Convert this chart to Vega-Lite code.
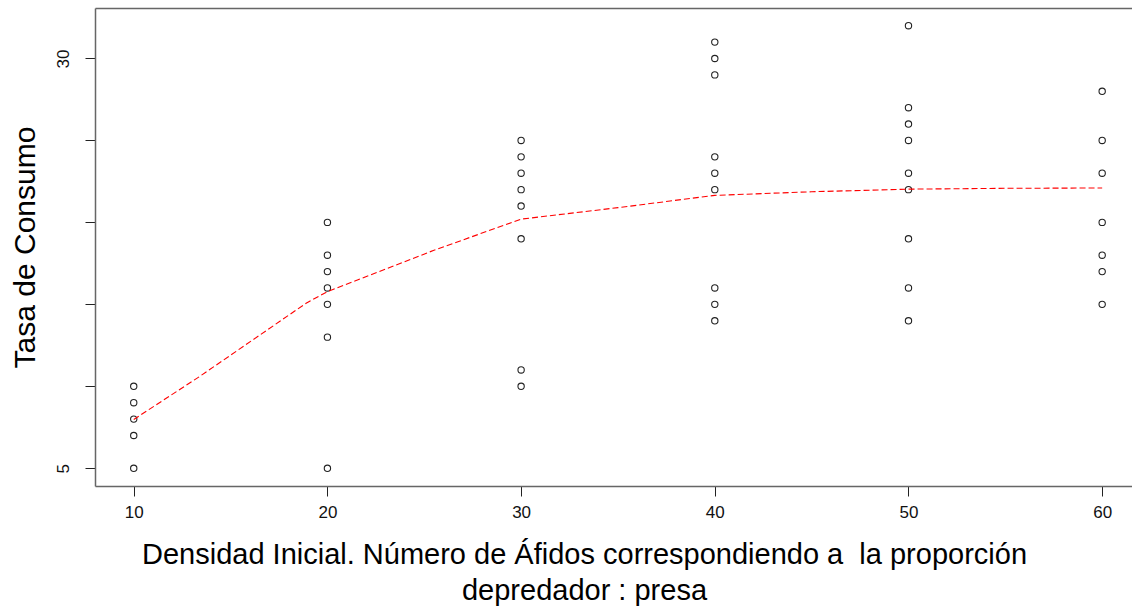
{
  "$schema": "https://vega.github.io/schema/vega-lite/v6.json",
  "width": 1037,
  "height": 478,
  "autosize": {"type": "none"},
  "padding": {"left": 95, "top": 8, "right": 0, "bottom": 121},
  "background": "white",
  "config": {
    "view": {"stroke": null},
    "font": "Liberation Sans",
    "axis": {"grid": false}
  },
  "datasets": {
    "obs": [
      {"densidad": 10, "tasa": 5}, {"densidad": 10, "tasa": 7}, {"densidad": 10, "tasa": 8}, {"densidad": 10, "tasa": 9}, {"densidad": 10, "tasa": 10},
      {"densidad": 20, "tasa": 5}, {"densidad": 20, "tasa": 13}, {"densidad": 20, "tasa": 15}, {"densidad": 20, "tasa": 16}, {"densidad": 20, "tasa": 17}, {"densidad": 20, "tasa": 18}, {"densidad": 20, "tasa": 20},
      {"densidad": 30, "tasa": 10}, {"densidad": 30, "tasa": 11}, {"densidad": 30, "tasa": 19}, {"densidad": 30, "tasa": 21}, {"densidad": 30, "tasa": 22}, {"densidad": 30, "tasa": 23}, {"densidad": 30, "tasa": 24}, {"densidad": 30, "tasa": 25},
      {"densidad": 40, "tasa": 14}, {"densidad": 40, "tasa": 15}, {"densidad": 40, "tasa": 16}, {"densidad": 40, "tasa": 22}, {"densidad": 40, "tasa": 23}, {"densidad": 40, "tasa": 24}, {"densidad": 40, "tasa": 29}, {"densidad": 40, "tasa": 30}, {"densidad": 40, "tasa": 31},
      {"densidad": 50, "tasa": 14}, {"densidad": 50, "tasa": 16}, {"densidad": 50, "tasa": 19}, {"densidad": 50, "tasa": 22}, {"densidad": 50, "tasa": 23}, {"densidad": 50, "tasa": 25}, {"densidad": 50, "tasa": 26}, {"densidad": 50, "tasa": 27}, {"densidad": 50, "tasa": 32},
      {"densidad": 60, "tasa": 15}, {"densidad": 60, "tasa": 17}, {"densidad": 60, "tasa": 18}, {"densidad": 60, "tasa": 20}, {"densidad": 60, "tasa": 23}, {"densidad": 60, "tasa": 25}, {"densidad": 60, "tasa": 28}
    ],
    "fit": [
      {"densidad": 10, "tasa": 7.98},
      {"densidad": 13.4, "tasa": 10.6},
      {"densidad": 18.9, "tasa": 15.07},
      {"densidad": 20, "tasa": 15.78},
      {"densidad": 25.5, "tasa": 18.3},
      {"densidad": 30, "tasa": 20.2},
      {"densidad": 35, "tasa": 20.9},
      {"densidad": 40, "tasa": 21.65},
      {"densidad": 45, "tasa": 21.87},
      {"densidad": 50, "tasa": 22.03},
      {"densidad": 55, "tasa": 22.08},
      {"densidad": 60, "tasa": 22.1}
    ]
  },
  "layer": [
    {
      "data": {"name": "obs"},
      "mark": {"type": "point", "shape": "circle", "filled": false, "size": 40, "color": "#222222", "strokeWidth": 1.1, "opacity": 1},
      "encoding": {
        "x": {
          "field": "densidad", "type": "quantitative",
          "scale": {"domain": [8, 61.54], "nice": false, "zero": false},
          "axis": {
            "orient": "bottom",
            "values": [10, 20, 30, 40, 50, 60],
            "domain": true, "domainColor": "#666666", "domainWidth": 1.5,
            "ticks": true, "tickSize": 10, "tickColor": "#222222", "tickWidth": 1,
            "labelFontSize": 17, "labelColor": "#111111", "labelPadding": 8, "labelFlush": false, "labelOverlap": false,
            "title": ["Densidad Inicial. Número de Áfidos correspondiendo a \u00a0la proporción", "depredador : presa"],
            "titleFontSize": 29, "titleFontWeight": "normal", "titleColor": "#000000",
            "titleLineHeight": 36,
            "titleX": 489, "titleY": 77, "titleAlign": "center", "titleBaseline": "alphabetic", "titleAnchor": null
          }
        },
        "y": {
          "field": "tasa", "type": "quantitative",
          "scale": {"domain": [3.92, 33.08], "nice": false, "zero": false},
          "axis": {
            "orient": "left",
            "values": [5, 10, 15, 20, 25, 30],
            "labelExpr": "datum.value == 5 || datum.value == 30 ? datum.label : ''",
            "domain": true, "domainColor": "#666666", "domainWidth": 1.5,
            "ticks": true, "tickSize": 10, "tickColor": "#222222", "tickWidth": 1,
            "labelFontSize": 17, "labelColor": "#111111", "labelAngle": -90, "labelAlign": "center", "labelBaseline": "alphabetic",
            "labelPadding": 17, "labelFlush": false, "labelOverlap": false,
            "title": "Tasa de Consumo",
            "titleFontSize": 30, "titleFontWeight": "normal", "titleColor": "#000000",
            "titleAngle": -90, "titleX": -61, "titleY": 239, "titleAlign": "center", "titleBaseline": "alphabetic"
          }
        }
      }
    },
    {
      "data": {"name": "fit"},
      "mark": {"type": "line", "color": "#ff0000", "strokeDash": [6, 3], "strokeWidth": 1.1},
      "encoding": {
        "x": {
          "field": "densidad", "type": "quantitative",
          "scale": {"domain": [8, 61.54], "nice": false, "zero": false},
          "axis": {"orient": "top", "domain": true, "domainColor": "#666666", "domainWidth": 1.5, "ticks": false, "labels": false, "title": null, "grid": false}
        },
        "y": {
          "field": "tasa", "type": "quantitative",
          "scale": {"domain": [3.92, 33.08], "nice": false, "zero": false},
          "axis": null
        }
      }
    }
  ],
  "resolve": {"axis": {"x": "independent", "y": "independent"}}
}
